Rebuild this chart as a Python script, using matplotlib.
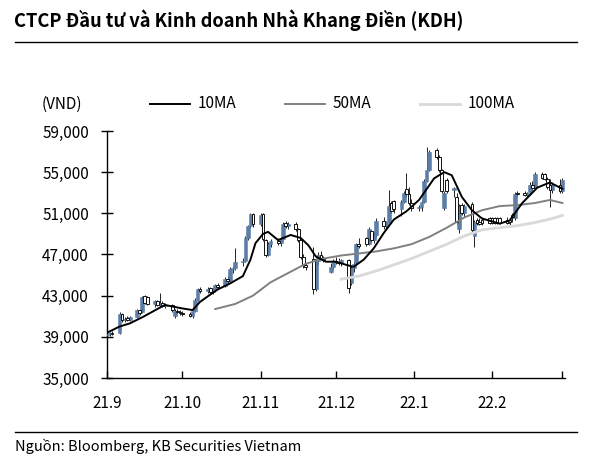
import matplotlib
matplotlib.use("Agg")
import matplotlib.pyplot as plt
from matplotlib.lines import Line2D
from matplotlib.ticker import FuncFormatter
import numpy as np
import pandas as pd

plt.rcParams['font.family'] = ['Noto Sans CJK JP', 'Noto Sans', 'DejaVu Sans']

title = "CTCP Đầu tư và Kinh doanh Nhà Khang Điền (KDH)"
source = "Nguồn: Bloomberg, KB Securities Vietnam"

# daily candles, every weekday 2021-09-01 .. 2022-03-01 (holidays carried flat)
opens = [39200, 39300, 39400, 39400, 41200, 40600, 40800, 40600, 40900, 41600, 41400,
         43000, 42900, 42200, 42500, 42100, 42300, 42000, 42100, 41000, 41500, 41400,
         41300, 41200, 41000, 41500, 42600, 43600, 43500, 43700, 43400, 43600, 44000,
         43900, 44600, 44400, 45600, 45700, 46300, 46400, 48600, 49800, 50900,
         50000, 50900, 48400, 47000, 48000, 48300, 48100, 48500, 50100, 49800, 50000,
         49500, 48400, 46800, 46000, 46600, 43600, 46400, 47000, 46600, 45300, 45800,
         46400, 46300, 46200, 46500, 44200, 45700, 46200, 48000, 48600, 48000, 49300,
         48400, 48900, 50300, 49800, 50200, 52000, 52200, 51400, 52100, 53400, 52900, 52000,
         51500, 51600, 52100, 54100, 55200, 57200, 56500, 55200, 51500, 54200, 53300,
         52600, 49500, 51800, 51000, 51900, 48800, 50400, 50200, 50400, 50500,
         50500, 50500, 50500, 50500, 50400, 50400, 50800, 50500, 53000, 53000, 52800,
         53100, 53800, 53500, 54800, 54800, 54300, 53800, 53300, 53800, 53200]
highs = [39500, 39500, 39600, 41400, 41300, 40900, 41000, 41000, 41700, 41700, 43000,
         43100, 43000, 42600, 42600, 43300, 42500, 42300, 42200, 41700, 41700, 41600,
         41500, 41400, 41600, 42800, 43700, 43800, 43800, 43800, 43700, 44100, 44200,
         44800, 44900, 45800, 45900, 47600, 46700, 48800, 49900, 51000, 51000,
         51000, 51000, 48500, 48200, 48500, 48600, 48700, 50200, 50300, 50200, 50200,
         49600, 48500, 47000, 46200, 47700, 46600, 47200, 47300, 46900, 46200, 46600,
         46800, 46700, 46600, 46600, 45900, 46300, 48100, 48600, 48700, 49700, 49400,
         49200, 50500, 50600, 50300, 53300, 52200, 52300, 52300, 53200, 54900, 53600, 52400,
         51800, 52300, 54300, 57400, 57200, 57300, 56700, 55300, 53200, 54400, 53600,
         53000, 51900, 52000, 51900, 52100, 50400, 50500, 50500, 50600, 50600,
         50600, 50600, 50600, 50600, 50600, 50500, 51000, 53100, 53200, 53200, 53100,
         54000, 54100, 55000, 55000, 54900, 54500, 54300, 54000, 54300, 54400]
lows = [39000, 39100, 39200, 39300, 40400, 40400, 40500, 40500, 40800, 41100, 41300,
        42200, 42100, 41900, 42000, 41900, 41900, 41800, 41400, 40800, 41200, 41100,
        41000, 40900, 40800, 41400, 42500, 43300, 43300, 43200, 43200, 43500, 43600,
        43800, 44200, 44300, 45200, 45500, 45900, 46300, 48400, 49600, 49700,
        49800, 48300, 46800, 46900, 47700, 47900, 47800, 48400, 49600, 49500, 49300,
        48200, 46600, 45700, 45500, 43200, 43500, 46000, 46500, 46300, 45200, 45600,
        46100, 46000, 45900, 43300, 44000, 45300, 46100, 47600, 47800, 47900, 48200,
        48100, 48700, 49500, 49500, 50100, 51000, 51000, 50700, 52000, 52600, 51800, 51200,
        51200, 51200, 52000, 54000, 55100, 56300, 55000, 53000, 51300, 53000, 52600,
        50000, 49100, 50800, 50600, 49200, 47700, 49900, 49900, 49900, 50000,
        50000, 50000, 50000, 50000, 50000, 49900, 50200, 50400, 52700, 52700, 52600,
        53000, 53300, 53400, 54300, 54200, 53400, 51600, 53000, 53000, 53000]
closes = [39300, 39400, 39300, 41200, 40600, 40700, 40600, 40900, 41600, 41300, 42900,
          42300, 42200, 42500, 42100, 42300, 42000, 42100, 41600, 41500, 41400, 41300,
          41200, 41000, 41500, 42600, 43600, 43500, 43600, 43400, 43600, 44000, 43800,
          44600, 44400, 45600, 45700, 46300, 46400, 48600, 49800, 50900, 50000,
          50800, 48500, 47000, 48000, 48300, 48100, 48500, 50000, 49800, 50000, 49500,
          48400, 46800, 46000, 45800, 43600, 46400, 47000, 46600, 46500, 45800, 46400,
          46300, 46200, 46500, 43700, 45700, 46100, 48000, 47800, 48000, 49500, 48400,
          48900, 50300, 49800, 50200, 51700, 51200, 51400, 52100, 53000, 52900, 52000, 51500,
          51600, 52100, 54100, 55200, 57000, 56500, 55200, 53200, 53000, 53200, 53500,
          50200, 51700, 51000, 51700, 49400, 50200, 50100, 50000, 50100, 50100,
          50100, 50100, 50100, 50100, 50100, 50200, 50600, 52900, 52900, 52800, 53000,
          53800, 53500, 54800, 54400, 54300, 53600, 53300, 53800, 53200, 54200]

ma10_dates = ["2021-09-01", "2021-09-06", "2021-09-10", "2021-09-15", "2021-09-21",
              "2021-09-24", "2021-09-30", "2021-10-05", "2021-10-08", "2021-10-12",
              "2021-10-15", "2021-10-20", "2021-10-25", "2021-10-28", "2021-10-30",
              "2021-11-02", "2021-11-04", "2021-11-08", "2021-11-13", "2021-11-17",
              "2021-11-20", "2021-11-23", "2021-11-27", "2021-12-01", "2021-12-05",
              "2021-12-08", "2021-12-12", "2021-12-16", "2021-12-20", "2021-12-24",
              "2021-12-29", "2022-01-03", "2022-01-09", "2022-01-13", "2022-01-16",
              "2022-01-20", "2022-01-24", "2022-01-28", "2022-02-04", "2022-02-08",
              "2022-02-13", "2022-02-19", "2022-02-24", "2022-02-28", "2022-03-01"]
ma10_vals = [39400, 40000, 40300, 40900, 41700, 42100, 41800, 41600, 42400, 43100,
             43600, 44200, 44900, 46500, 48100, 49000, 49200, 48400, 48900, 48600,
             47900, 46800, 46300, 46300, 46000, 45800, 46500, 47600, 49100, 50400,
             51200, 52300, 54400, 55000, 54700, 52600, 51300, 50500, 50000, 50300,
             52000, 53500, 54000, 53500, 53400]

ma50_dates = ["2021-10-14", "2021-10-22", "2021-10-29", "2021-11-05", "2021-11-12",
              "2021-11-19", "2021-11-26", "2021-12-03", "2021-12-10", "2021-12-17",
              "2021-12-24", "2021-12-31", "2022-01-07", "2022-01-14", "2022-01-21",
              "2022-01-28", "2022-02-04", "2022-02-11", "2022-02-18", "2022-02-24",
              "2022-03-01"]
ma50_vals = [41700, 42200, 43000, 44300, 45200, 46100, 46600, 46900, 47100, 47300,
             47600, 48000, 48700, 49600, 50600, 51300, 51700, 51800, 52000, 52300, 52000]

ma100_dates = ["2021-12-03", "2021-12-10", "2021-12-17", "2021-12-24", "2021-12-31",
               "2022-01-07", "2022-01-14", "2022-01-21", "2022-01-28", "2022-02-04",
               "2022-02-11", "2022-02-18", "2022-02-25", "2022-03-01"]
ma100_vals = [44600, 44900, 45400, 46000, 46600, 47300, 48000, 48800, 49400, 49600,
              49800, 50100, 50500, 50800]

month_ticks = ["2021-09-01", "2021-10-01", "2021-11-01", "2021-12-01",
               "2022-01-01", "2022-02-01", "2022-03-01"]
month_labels = ["21.9", "21.10", "21.11", "21.12", "22.1", "22.2", ""]

W, H = 592, 461
def fx(x):
    return x / W
def fy(y):
    return 1 - y / H

fig = plt.figure(figsize=(W / 100, H / 100), dpi=100)
ax = fig.add_axes([fx(107), fy(378), fx(565) - fx(107), fy(131) - fy(378)])

days = pd.bdate_range("2021-09-01", "2022-03-01")
o = np.array(opens); c = np.array(closes)
up = c >= o
blue = "#5b7da6"

ax.vlines(days, lows, highs, color="#222222", lw=0.7, zorder=2)
ax.bar(days[up], (c - o)[up], bottom=o[up], width=1.5, color=blue,
       edgecolor=blue, lw=0.4, zorder=3)
ax.bar(days[~up], (c - o)[~up], bottom=o[~up], width=1.1, color="white",
       edgecolor="#111111", lw=0.7, zorder=3)

ax.plot(pd.to_datetime(ma100_dates), ma100_vals, color="#d9d9d9", lw=2.0, zorder=4)
ax.plot(pd.to_datetime(ma50_dates), ma50_vals, color="#808080", lw=1.4, zorder=4)
ax.plot(pd.to_datetime(ma10_dates), ma10_vals, color="black", lw=1.4, zorder=5)

ax.set_ylim(35000, 59000)
ax.set_yticks(range(35000, 59001, 4000))
ax.yaxis.set_major_formatter(FuncFormatter(lambda v, p: f"{int(v):,}"))
ax.set_xlim(pd.Timestamp("2021-09-01"), pd.Timestamp("2022-03-02"))
ax.set_xticks(pd.to_datetime(month_ticks))
ax.set_xticklabels(month_labels)

for s in ["top", "right"]:
    ax.spines[s].set_visible(False)
for s in ["left", "bottom"]:
    ax.spines[s].set_linewidth(1.0)
ax.tick_params(axis="y", direction="inout", length=8, width=1, pad=9,
               labelsize=11, colors="black")
ax.tick_params(axis="x", direction="in", length=5, width=1, pad=12,
               labelsize=11, colors="black")

fig.text(fx(14), fy(20), title, fontsize=13.2, fontweight="bold", va="center", ha="left")
fig.add_artist(Line2D([fx(15), fx(577)], [fy(42), fy(42)], color="black", lw=1.0))
fig.add_artist(Line2D([fx(15), fx(577)], [fy(432), fy(432)], color="black", lw=1.0))
fig.text(fx(15), fy(446), source, fontsize=10.5, va="center", ha="left")

# legend row
fig.text(fx(42), fy(104), "(VND)", fontsize=11, va="center", ha="left")
legend_items = [("10MA", "black", 1.4, 150), ("50MA", "#808080", 1.4, 285),
                ("100MA", "#d9d9d9", 2.0, 420)]
for name, col, lw, x0 in legend_items:
    fig.add_artist(Line2D([fx(x0), fx(x0 + 40)], [fy(104), fy(104)], color=col, lw=lw))
    fig.text(fx(x0 + 48), fy(104), name, fontsize=11, va="center", ha="left")

fig.savefig("out.png", dpi=100)
